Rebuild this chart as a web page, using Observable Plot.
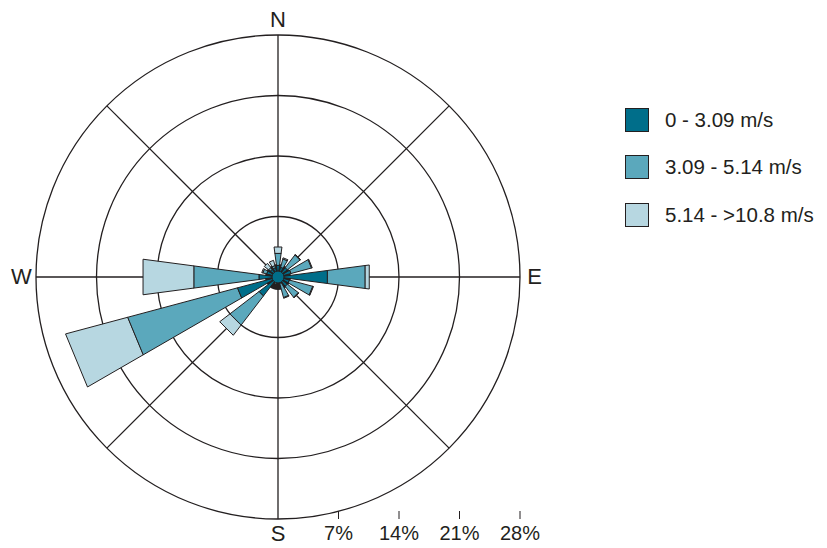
<!DOCTYPE html>
<html>
<head>
<meta charset="utf-8">
<script src="https://cdn.jsdelivr.net/npm/d3@7"></script>
<script src="https://cdn.jsdelivr.net/npm/@observablehq/plot@0.6"></script>
<style>
  html, body { margin: 0; padding: 0; background: #fff; }
  #wrap { position: relative; width: 827px; height: 548px; font-family: "Liberation Sans", Arial, sans-serif; color: #231f20; }
  #legend { position: absolute; left: 625px; top: 107px; }
  .item { display: flex; align-items: center; height: 25px; margin-bottom: 22.5px; font-size: 20.5px; white-space: nowrap; }
  .sw { width: 22px; height: 22px; border: 1.5px solid #231f20; margin-right: 16px; }
</style>
</head>
<body>
<div id="wrap"><div id="legend"></div></div>
<script>
// 16 compass directions, clockwise from North
const directions = ["N","NNE","NE","ENE","E","ESE","SE","SSE","S","SSW","SW","WSW","W","WNW","NW","NNW"];
// frequency (%) per speed bin
const bins = ["0 - 3.09 m/s", "3.09 - 5.14 m/s", "5.14 - >10.8 m/s"];
const slow = [1.4, 1.2, 1.4, 1.6, 5.8, 1.4, 1.4, 0.8, 0.3, 0.6, 2.8, 4.9, 2.25, 1.4, 1.15, 1.15];
const mid  = [1.4, 1.0, 1.85, 2.45, 4.4, 2.8, 1.6, 1.7, 0.1, 0.3, 4.25, 13.15, 7.6, 0.45, 0.25, 0.25];
const fast = [0.7, 0.1, 0.05, 0.05, 0.45, 0.05, 0.05, 0.05, 0, 0, 1.45, 7.4, 5.9, 0.1, 0.6, 0.6];
const calm = 1.5;
const rings = [7, 14, 21, 28];
const compass = ["N", "E", "S", "W"];
const colors = ["#006e8a", "#5ba8bc", "#b7d7e1"];

const rad = d => d * Math.PI / 180;
const series = [slow, mid, fast];
const pts = [];
directions.forEach((dir, i) => {
  const a = i * 22.5;
  let r0 = 0;
  series.forEach((s, b) => {
    const r1 = r0 + s[i];
    const id = dir + "-" + b;
    for (const [r, t] of [[r0, a - 7.5], [r1, a - 7.5], [r1, a + 7.5], [r0, a + 7.5]]) {
      pts.push({id, bin: bins[b], x: r * Math.sin(rad(t)), y: r * Math.cos(rad(t))});
    }
    r0 = r1;
  });
});
const spokes = d3.range(8).map(i => i * 45);

const ink = "#231f20";
const chart = Plot.plot({
  width: 827,
  height: 548,
  marginTop: 0, marginRight: 0, marginLeft: 0, marginBottom: 37,
  x: {domain: [-28, 28], range: [35.5, 519.5], label: null},
  y: {domain: [-28, 28], range: [518.5, 34.5], axis: null},
  r: {type: "linear", domain: [0, 28], range: [0, 242]},
  color: {domain: bins, range: colors},
  style: {fontFamily: "'Liberation Sans', Arial, sans-serif", color: ink, background: "white", overflow: "visible"},
  marks: [
    Plot.link(spokes, {x1: 0, y1: 0, x2: d => 28 * Math.sin(rad(d)), y2: d => 28 * Math.cos(rad(d)), stroke: ink, strokeWidth: 1.3}),
    Plot.dot(rings, {x: d => 0, y: d => 0, r: d => d, stroke: ink, strokeWidth: 1.3, fill: "none"}),
    Plot.dot([calm], {x: d => 0, y: d => 0, r: d => d, fill: ink, stroke: "none"}),
    Plot.line(pts, {x: "x", y: "y", z: "id", fill: "bin", stroke: ink, strokeWidth: 1, curve: "linear-closed"}),
    Plot.dot([0], {x: d => 0, y: d => 0, r: 6, fill: colors[0], stroke: ink, strokeWidth: 1}),
    Plot.text(compass, {x: (d, i) => 29.7 * Math.sin(rad(i * 90)), y: (d, i) => 29.7 * Math.cos(rad(i * 90)), text: d => d, fontSize: 22, fill: ink}),
    Plot.axisX(rings, {anchor: "bottom", tickSize: 8, tickPadding: 6, tickFormat: d => d + "%", fontSize: 20, stroke: ink, fill: ink, label: null})
  ]
});
document.getElementById("wrap").prepend(chart);

const legend = document.getElementById("legend");
bins.forEach((b, i) => {
  const item = document.createElement("div");
  item.className = "item";
  const sw = document.createElement("div");
  sw.className = "sw";
  sw.style.background = colors[i];
  const label = document.createElement("span");
  label.textContent = b;
  item.append(sw, label);
  legend.append(item);
});
</script>
</body>
</html>
